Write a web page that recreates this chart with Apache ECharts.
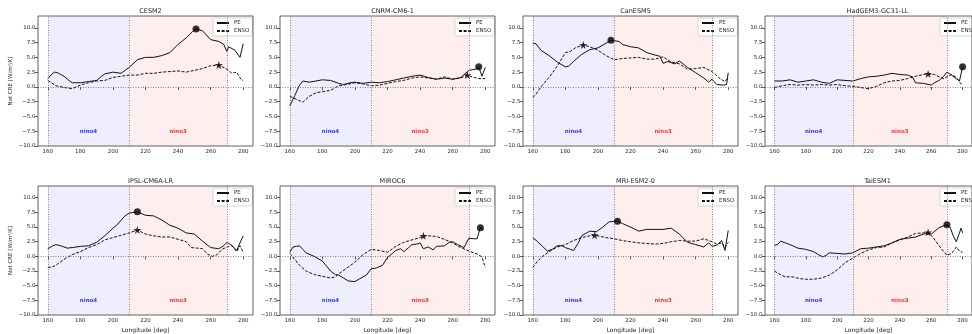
<!DOCTYPE html>
<html>
<head>
<meta charset="utf-8">
<script src="https://cdn.jsdelivr.net/npm/echarts@6/dist/echarts.min.js"></script>
<style>
  html, body { margin: 0; padding: 0; background: #fff; }
  #chart { width: 972px; height: 334px; }
</style>
</head>
<body>
<div id="chart"></div>
<script>
// Panel titles (climate models), in row-major order
const models = ['CESM2', 'CNRM-CM6-1', 'CanESM5', 'HadGEM3-GC31-LL',
                'IPSL-CM6A-LR', 'MIROC6', 'MRI-ESM2-0', 'TaiESM1'];

// Tick positions
const xTicks = [160, 180, 200, 220, 240, 260, 280];
const yTicks = [-10, -7.5, -5, -2.5, 0, 2.5, 5, 7.5, 10];

// Niño regions (longitude bounds) and where their labels sit
const nino4Bounds = [160, 210];
const nino3Bounds = [210, 270];
const ninoLabels = [['nino4', 185, -7.5], ['nino3', 240, -7.5]];

// Net CRE feedback profiles [longitude, W/m2/K]
const CESM2_PE = [[160,1.4],[162,2.0],[164,2.5],[166,2.4],[170,1.8],[173,1.1],[175,0.7],[180,0.7],[185,0.9],[190,1.1],[193,1.8],[195,2.2],[200,2.5],[205,2.3],[210,3.3],[215,4.6],[220,5.0],[225,5.0],[230,5.3],[235,5.8],[240,7.2],[245,8.3],[249,9.4],[251,9.8],[255,9.5],[260,8.0],[265,7.7],[268,7.2],[270,6.0],[271,6.8],[275,6.2],[278,5.0],[280,7.3]];
const CESM2_ENSO = [[160,1.1],[165,0.2],[170,-0.1],[175,-0.3],[180,0.3],[185,0.7],[190,1.0],[195,1.1],[200,1.6],[205,1.8],[210,2.0],[215,2.0],[220,2.3],[225,2.3],[230,2.5],[235,2.6],[240,2.7],[245,2.5],[250,2.8],[255,3.1],[260,3.6],[265,3.7],[270,3.0],[273,2.3],[276,2.5],[278,1.5],[280,1.0]];

const CNRM_PE = [[160,-3.2],[163,-1.5],[166,0.3],[168,1.0],[172,0.8],[176,1.0],[180,1.2],[185,1.1],[190,0.6],[193,0.4],[197,0.7],[200,0.8],[205,0.6],[210,0.8],[215,0.7],[220,0.9],[225,1.2],[230,1.5],[235,1.8],[240,2.0],[245,1.6],[250,1.3],[255,1.5],[260,1.3],[265,1.6],[270,2.8],[274,3.0],[276,3.4],[278,1.8],[279,1.5],[280,3.3]];
const CNRM_ENSO = [[160,-1.6],[165,-2.2],[168,-2.6],[172,-1.6],[176,-1.0],[180,-0.8],[185,-0.6],[190,0.2],[195,0.4],[200,0.7],[205,0.5],[210,0.2],[215,0.3],[220,0.6],[225,0.9],[230,1.1],[235,1.5],[240,1.7],[245,1.5],[250,1.3],[255,1.7],[260,1.3],[265,1.5],[269,2.0],[272,1.7],[276,1.4],[280,1.4]];

const CanESM5_PE = [[160,7.4],[162,7.3],[165,6.2],[170,5.3],[175,4.2],[180,3.4],[182,3.5],[185,4.3],[190,5.5],[195,6.3],[200,6.6],[205,7.4],[208,7.9],[210,7.8],[213,7.7],[215,7.2],[220,6.8],[225,6.6],[230,5.8],[235,5.4],[238,5.2],[240,4.0],[243,4.3],[247,3.9],[250,4.4],[255,3.3],[260,2.4],[265,1.5],[268,0.8],[270,1.3],[273,0.4],[277,0.3],[279,0.4],[280,2.4]];
const CanESM5_ENSO = [[160,-1.8],[162,-1.2],[165,0.0],[170,1.6],[175,3.5],[180,5.8],[183,6.0],[186,6.6],[191,7.1],[195,6.8],[200,6.2],[205,5.3],[210,4.6],[215,4.8],[220,4.9],[225,5.0],[230,4.7],[235,4.7],[240,5.1],[245,4.2],[250,3.9],[255,3.0],[260,3.1],[265,3.3],[270,2.6],[275,1.4],[278,0.9],[280,1.6]];

const HadGEM3_PE = [[160,1.0],[165,1.0],[170,1.2],[175,0.8],[180,1.0],[185,1.2],[190,0.8],[195,0.6],[200,1.2],[205,1.1],[210,1.0],[215,1.4],[220,1.7],[225,1.8],[230,2.0],[235,2.3],[240,2.1],[245,2.0],[248,1.7],[250,0.7],[255,0.6],[260,0.3],[262,0.7],[265,1.1],[268,1.8],[270,2.5],[273,2.0],[276,1.4],[278,1.0],[280,3.4]];
const HadGEM3_ENSO = [[160,-0.1],[165,0.2],[170,0.4],[175,0.3],[180,0.4],[185,0.3],[190,0.4],[195,0.3],[200,0.4],[205,0.2],[210,0.1],[215,-0.1],[220,-0.3],[225,0.1],[230,0.7],[235,1.0],[240,1.1],[245,1.4],[250,1.8],[255,2.1],[258,2.2],[262,2.1],[265,1.7],[268,1.4],[270,1.7],[273,2.1],[276,1.6],[279,0.5],[280,0.4]];

const IPSL_PE = [[160,1.3],[163,1.8],[165,2.0],[168,1.8],[172,1.4],[175,1.5],[180,1.7],[185,1.8],[190,2.4],[195,3.5],[200,4.8],[203,5.5],[207,6.8],[210,7.4],[213,7.5],[215,7.6],[220,7.0],[225,6.9],[230,6.2],[235,5.3],[240,4.8],[245,4.0],[250,3.8],[255,2.6],[260,1.5],[265,1.3],[268,1.8],[270,2.4],[273,1.9],[276,1.0],[278,2.3],[280,3.5]];
const IPSL_ENSO = [[160,-1.9],[163,-1.8],[165,-1.5],[170,-0.5],[175,0.3],[180,0.8],[185,1.5],[190,2.0],[195,2.8],[200,3.2],[205,3.6],[210,4.0],[215,4.5],[220,3.8],[225,3.5],[230,3.3],[235,3.3],[240,2.9],[245,2.5],[248,1.5],[252,1.4],[255,1.3],[258,0.4],[261,0.0],[264,0.3],[267,1.2],[270,1.6],[273,1.8],[276,0.8],[278,1.8],[280,0.7]];

const MIROC6_PE = [[160,0.7],[162,1.6],[164,1.7],[166,1.8],[168,1.2],[170,0.6],[175,0.0],[180,-0.8],[183,-1.8],[185,-2.5],[188,-3.1],[190,-3.2],[193,-3.7],[196,-4.2],[200,-4.3],[201,-4.4],[203,-3.8],[207,-3.2],[210,-2.1],[213,-2.0],[217,-1.5],[220,-0.2],[223,0.5],[225,1.0],[228,1.3],[230,0.8],[233,1.5],[235,2.0],[238,2.1],[240,2.3],[242,1.3],[245,1.6],[248,1.1],[250,1.7],[255,1.8],[258,2.4],[260,2.5],[263,2.0],[267,1.5],[270,3.1],[273,3.0],[275,3.0],[277,4.9],[279,4.6]];
const MIROC6_ENSO = [[160,0.5],[163,-0.5],[166,-1.5],[170,-2.5],[175,-3.1],[180,-3.4],[185,-3.7],[188,-3.5],[190,-3.0],[195,-2.0],[200,-1.0],[205,0.3],[210,1.2],[215,1.0],[220,0.7],[225,1.7],[230,2.4],[235,2.8],[240,3.2],[242,3.5],[245,3.5],[250,3.4],[255,2.9],[260,2.3],[265,1.5],[270,0.9],[275,0.4],[278,-0.1],[280,-1.9]];

const MRI_PE = [[160,3.2],[163,2.5],[166,1.7],[169,0.9],[172,1.2],[175,1.8],[178,1.8],[180,1.5],[183,1.2],[185,1.0],[188,2.3],[190,3.5],[193,4.0],[195,4.3],[199,4.2],[203,5.0],[207,5.9],[212,6.0],[215,5.6],[220,5.0],[225,4.3],[230,4.6],[235,4.6],[240,4.6],[245,4.8],[250,3.8],[255,2.4],[260,2.0],[265,1.6],[268,2.3],[270,1.7],[273,1.9],[276,2.7],[278,1.0],[279,0.8],[280,4.4]];
const MRI_ENSO = [[160,-1.9],[163,-0.8],[166,0.0],[170,0.8],[175,1.6],[180,2.0],[185,2.7],[190,3.2],[195,3.5],[198,3.6],[200,3.5],[205,3.2],[210,3.0],[215,2.7],[220,2.5],[225,2.3],[230,2.2],[235,2.1],[240,2.2],[245,2.5],[250,2.7],[255,2.6],[260,2.6],[265,3.0],[270,2.5],[273,2.1],[276,2.3],[278,1.5],[280,2.4]];

const TaiESM1_PE = [[160,1.9],[162,2.0],[164,2.6],[167,2.3],[170,2.0],[175,1.4],[180,1.2],[185,0.8],[188,0.3],[191,-0.1],[193,0.2],[195,0.6],[200,0.5],[205,0.4],[210,0.6],[215,1.3],[220,1.4],[225,1.6],[230,1.8],[235,2.3],[240,2.9],[245,3.1],[250,3.3],[255,3.8],[258,3.9],[260,3.8],[265,4.9],[270,5.4],[272,5.0],[274,3.5],[276,2.5],[278,4.0],[279,4.8],[280,4.0]];
const TaiESM1_ENSO = [[160,-2.5],[163,-3.0],[167,-3.5],[172,-3.5],[176,-3.8],[180,-3.9],[185,-3.9],[190,-3.7],[195,-3.2],[200,-2.3],[205,-1.1],[210,-0.3],[215,0.5],[220,1.1],[225,1.5],[230,1.6],[235,2.3],[240,2.8],[245,3.3],[250,3.9],[255,4.0],[258,4.1],[261,3.3],[265,1.8],[268,0.8],[270,0.2],[273,0.5],[276,1.6],[278,0.9],[280,0.7]];

const peSeries = [CESM2_PE, CNRM_PE, CanESM5_PE, HadGEM3_PE, IPSL_PE, MIROC6_PE, MRI_PE, TaiESM1_PE];
const ensoSeries = [CESM2_ENSO, CNRM_ENSO, CanESM5_ENSO, HadGEM3_ENSO, IPSL_ENSO, MIROC6_ENSO, MRI_ENSO, TaiESM1_ENSO];

// ---- layout ----
const FONT = 'DejaVu Sans';
const TXT = '#262626';
const colLeft = [38, 280, 523, 765];
const rowTop = [16, 186];
const W = 215, H = 130;
const STAR = 'path://M50,0 L61.8,35.4 L99,35.4 L69.1,57.3 L80.4,92.7 L50,70.8 L19.6,92.7 L30.9,57.3 L1,35.4 L38.2,35.4 Z';

function maxPoint(arr) {
  let best = arr[0];
  for (const p of arr) if (p[1] > best[1]) best = p;
  return best;
}
function fmtY(v) {
  return (v < 0 ? '\u2212' : '') + Math.abs(v).toFixed(1);
}

const grids = [], xAxes = [], yAxes = [], series = [], titles = [], legends = [];

models.forEach((name, i) => {
  const r = Math.floor(i / 4), c = i % 4;
  const left = colLeft[c], top = rowTop[r];
  grids.push({
    left: left, top: top, width: W, height: H,
    show: true, z: 10, backgroundColor: 'transparent',
    borderColor: '#3a3a3a', borderWidth: 0.8
  });
  xAxes.push({
    type: 'value', gridIndex: i, min: 154, max: 286,
    axisLine: { show: false },
    axisTick: { show: true, length: 3, customValues: xTicks, lineStyle: { color: '#333', width: 0.8 } },
    axisLabel: { customValues: xTicks, fontFamily: FONT, fontSize: 5.5, color: TXT, margin: 2.5 },
    splitLine: { show: false },
    name: r === 1 ? 'Longitude [deg]' : '',
    nameLocation: 'middle', nameGap: 12,
    nameTextStyle: { fontFamily: FONT, fontSize: 6, color: TXT }
  });
  yAxes.push({
    type: 'value', gridIndex: i, min: -10, max: 12,
    axisLine: { show: false },
    axisTick: { show: true, length: 3, customValues: yTicks, lineStyle: { color: '#333', width: 0.8 } },
    axisLabel: { customValues: yTicks, formatter: fmtY, fontFamily: FONT, fontSize: 5.5, color: TXT, margin: 2.5 },
    splitLine: { show: false },
    name: c === 0 ? 'Net CRE [W/m\u00b2/K]' : '',
    nameLocation: 'middle', nameGap: 24, nameRotate: 90,
    nameTextStyle: { fontFamily: FONT, fontSize: 5.5, color: TXT }
  });
  titles.push({
    text: name, left: left + W / 2, top: top - 13, textAlign: 'center',
    textStyle: { fontFamily: FONT, fontSize: 6.5, fontWeight: 'normal', color: TXT }
  });
  legends.push({
    data: ['PE', 'ENSO'], orient: 'vertical',
    left: left + W - 40, top: top + 2,
    itemWidth: 12, itemHeight: 5, itemGap: 2,
    padding: [2, 3, 2, 3],
    backgroundColor: '#fff', borderColor: '#cccccc', borderWidth: 0.8, borderRadius: 1.5,
    itemStyle: { opacity: 0 },
    textStyle: { fontFamily: FONT, fontSize: 5.5, color: TXT },
    selectedMode: false
  });

  // region shading, boundaries, zero line and region labels
  series.push({
    type: 'scatter', xAxisIndex: i, yAxisIndex: i, name: 'regions',
    symbolSize: 0, silent: true,
    data: [
      { value: [ninoLabels[0][1], ninoLabels[0][2]], name: ninoLabels[0][0], label: { color: '#0000ff' } },
      { value: [ninoLabels[1][1], ninoLabels[1][2]], name: ninoLabels[1][0], label: { color: '#ff0000' } }
    ],
    label: {
      show: true, position: 'inside', fontFamily: FONT, fontSize: 5.5, fontWeight: 'bold',
      formatter: p => p.name
    },
    itemStyle: { color: 'transparent' },
    markArea: {
      silent: true,
      data: [
        [{ xAxis: nino4Bounds[0], itemStyle: { color: 'rgba(0,0,255,0.065)' } }, { xAxis: nino4Bounds[1] }],
        [{ xAxis: nino3Bounds[0], itemStyle: { color: 'rgba(255,0,0,0.065)' } }, { xAxis: nino3Bounds[1] }]
      ]
    },
    markLine: {
      silent: true, symbol: 'none', label: { show: false },
      lineStyle: { color: '#666', type: [1, 1.5], width: 0.8 },
      data: [{ xAxis: nino4Bounds[0] }, { xAxis: nino4Bounds[1] }, { xAxis: nino3Bounds[1] }, { yAxis: 0 }]
    }
  });

  series.push({
    type: 'line', name: 'PE', xAxisIndex: i, yAxisIndex: i,
    data: peSeries[i], symbol: 'none', smooth: false,
    lineStyle: { color: '#111', width: 1 }, itemStyle: { color: '#111' }
  });
  series.push({
    type: 'line', name: 'ENSO', xAxisIndex: i, yAxisIndex: i,
    data: ensoSeries[i], symbol: 'none', smooth: false,
    lineStyle: { color: '#111', width: 1, type: [3, 1.6] }, itemStyle: { color: '#111' }
  });
  // maximum of each profile
  series.push({
    type: 'scatter', name: 'PE max', xAxisIndex: i, yAxisIndex: i, z: 6,
    data: [maxPoint(peSeries[i])], symbol: 'circle', symbolSize: 7,
    itemStyle: { color: '#000' }
  });
  series.push({
    type: 'scatter', name: 'ENSO max', xAxisIndex: i, yAxisIndex: i, z: 6,
    data: [maxPoint(ensoSeries[i])], symbol: STAR, symbolSize: 8,
    itemStyle: { color: '#000' }
  });
});

const chart = echarts.init(document.getElementById('chart'), null, { renderer: 'canvas' });
chart.setOption({
  animation: false,
  backgroundColor: '#fff',
  title: titles,
  legend: legends,
  grid: grids,
  xAxis: xAxes,
  yAxis: yAxes,
  series: series
});
</script>
</body>
</html>
